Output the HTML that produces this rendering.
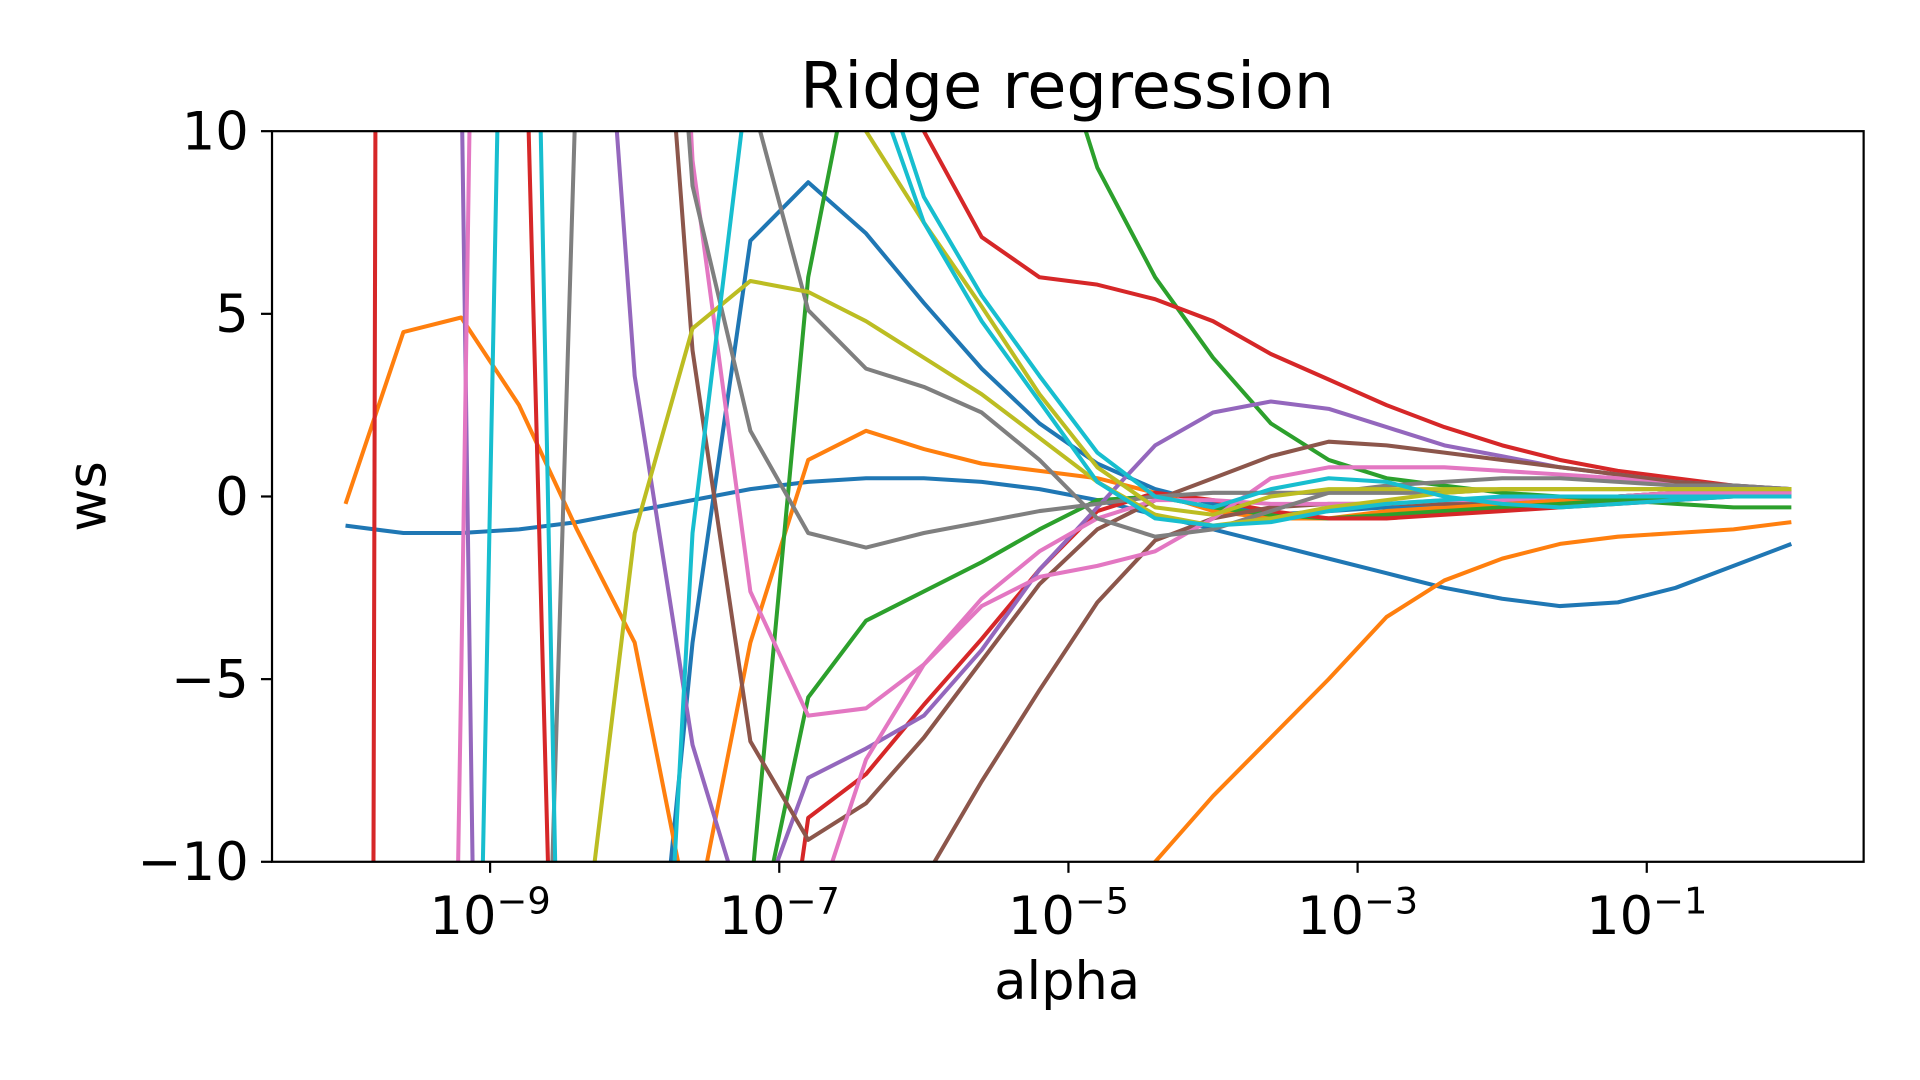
<!DOCTYPE html>
<html><head><meta charset="utf-8"><style>
html,body{margin:0;padding:0;background:#fff;overflow:hidden;width:1920px;height:1080px;}
svg{display:block;font-family:"DejaVu Sans","Liberation Sans",sans-serif;}
</style></head><body>
<svg id="chart" width="1920" height="1080" viewBox="0 0 1567 881" preserveAspectRatio="none">
<defs><clipPath id="clip"><rect x="222" y="107" width="1299" height="596"/></clipPath></defs>
<rect x="0" y="0" width="1567" height="881" fill="#fff"/>
<text x="871" y="88" font-size="52" text-anchor="middle">Ridge regression</text>
<g id="series" clip-path="url(#clip)"></g>
<rect x="222" y="107" width="1299" height="596" fill="none" stroke="#000" stroke-width="1.8"/>
<g id="axes"></g>
<text x="871" y="815" font-size="43" text-anchor="middle">alpha</text>
<text x="0" y="0" font-size="43" text-anchor="middle" transform="translate(86,405) rotate(-90)">ws</text>
</svg>
<script>
const logAlphas = [-10,-9.6,-9.2,-8.8,-8.4,-8,-7.6,-7.2,-6.8,-6.4,-6,-5.6,-5.2,-4.8,-4.4,-4,-3.6,-3.2,-2.8,-2.4,-2,-1.6,-1.2,-0.8,-0.4,0];
const yTicks = [10,5,0,-5,-10];
const xTickExps = [-9,-7,-5,-3,-1];
const seriesColors = ["#1f77b4","#1f77b4","#ff7f0e","#ff7f0e","#2ca02c","#2ca02c","#d62728","#d62728","#9467bd","#9467bd","#8c564b","#8c564b","#e377c2","#e377c2","#e377c2","#7f7f7f","#7f7f7f","#bcbd22","#bcbd22","#17becf","#17becf"];
const sBlueSmooth = [-0.8,-1.0,-1.0,-0.9,-0.7,-0.4,-0.1,0.2,0.4,0.5,0.5,0.4,0.2,-0.1,-0.5,-0.9,-1.3,-1.7,-2.1,-2.5,-2.8,-3.0,-2.9,-2.5,-1.9,-1.3];
const sBlueBig = [-30,-30,-30,-30,-30,-20,-4,7.0,8.6,7.2,5.3,3.5,2.0,0.9,0.2,-0.2,-0.5,-0.4,-0.3,-0.2,-0.1,0.0,0.0,0.1,0.1,0.1];
const sOrange1 = [-0.2,4.5,4.9,2.5,-0.9,-4.0,-12,-4,1.0,1.8,1.3,0.9,0.7,0.5,0.1,-0.4,-0.6,-0.6,-0.4,-0.3,-0.2,-0.1,0.0,0.1,0.1,0.2];
const sOrange2 = [-20,-20,-20,-20,-20,-20,-20,-20,-20,-20,-20,-20,-20,-11.5,-10,-8.2,-6.6,-5.0,-3.3,-2.3,-1.7,-1.3,-1.1,-1.0,-0.9,-0.7];
const sGreenSteep = [-30,-30,-30,-30,-30,-30,-30,-11,6,14,20,20,14,9,6.0,3.8,2.0,1.0,0.5,0.3,0.1,0.0,-0.1,-0.2,-0.3,-0.3];
const sGreenLow = [-30,-30,-30,-30,-30,-30,-30,-13,-5.5,-3.4,-2.6,-1.8,-0.9,-0.1,0.0,-0.3,-0.5,-0.6,-0.5,-0.4,-0.3,-0.2,-0.1,0.0,0.1,0.2];
const sRed1 = [-300,300,200,20,-40,-60,-40,-20,-8.8,-7.6,-5.7,-3.9,-2.0,-0.4,0.1,-0.1,-0.4,-0.6,-0.6,-0.5,-0.4,-0.3,-0.2,-0.1,0.0,0.0];
const sRed2 = [30,30,30,30,30,30,30,30,30,14,10,7.1,6.0,5.8,5.4,4.8,3.9,3.2,2.5,1.9,1.4,1.0,0.7,0.5,0.3,0.1];
const sPurple1 = [100,100,12,-100,-50,-50,-50,-50,-50,-50,-50,-50,-50,-50,-50,-50,-50,-50,-50,-50,-50,-50,-50,-50,-50,-50];
const sPurple2 = [30,30,30,30,25,3.3,-6.8,-12,-7.7,-6.9,-6.0,-4.2,-2.0,-0.3,1.4,2.3,2.6,2.4,1.9,1.4,1.1,0.8,0.6,0.4,0.3,0.2];
const sBrown1 = [25,25,25,25,25,25,4,-6.7,-9.4,-8.4,-6.6,-4.5,-2.4,-0.9,-0.1,0.5,1.1,1.5,1.4,1.2,1.0,0.8,0.6,0.4,0.3,0.2];
const sBrown2 = [-20,-20,-20,-20,-20,-20,-20,-20,-20,-15,-10.5,-7.8,-5.3,-2.9,-1.2,-0.6,-0.3,-0.2,-0.2,-0.2,-0.1,0.0,0.0,0.1,0.1,0.2];
const sPink1 = [-100,-100,-5,100,50,50,50,50,50,50,50,50,50,50,50,50,50,50,50,50,50,50,50,50,50,50];
const sPink2 = [40,40,40,40,40,40,9.2,-2.6,-6.0,-5.8,-4.6,-3.0,-2.2,-1.9,-1.5,-0.6,0.5,0.8,0.8,0.8,0.7,0.6,0.5,0.3,0.2,0.1];
const sPink3 = [-20,-20,-20,-20,-20,-20,-20,-20,-12,-7.2,-4.6,-2.8,-1.5,-0.6,-0.1,-0.1,-0.2,-0.2,-0.2,-0.1,-0.1,0.0,0.0,0.1,0.1,0.1];
const sGray1 = [-100,-100,-60,-40,12,30,30,11,5.1,3.5,3.0,2.3,1.0,-0.6,-1.1,-0.9,-0.4,0.1,0.3,0.4,0.5,0.5,0.4,0.3,0.3,0.2];
const sGray2 = [30,30,30,30,30,30,8.5,1.8,-1.0,-1.4,-1.0,-0.7,-0.4,-0.2,0.0,0.1,0.1,0.1,0.1,0.1,0.2,0.2,0.2,0.2,0.2,0.2];
const sOlive1 = [-20,-20,-20,-20,-14,-1,4.6,5.9,5.6,4.8,3.8,2.8,1.6,0.4,-0.5,-0.8,-0.6,-0.3,-0.1,0.1,0.2,0.2,0.2,0.2,0.2,0.2];
const sOlive2 = [30,30,30,30,30,30,30,30,14,10,7.5,5.2,2.8,0.8,-0.3,-0.5,0.0,0.2,0.2,0.2,0.2,0.2,0.2,0.2,0.2,0.2];
const sCyan1 = [-40,-40,-40,40,-40,-30,-1,12,25,13,8.2,5.5,3.3,1.2,0.0,-0.3,0.2,0.5,0.4,0.0,-0.2,-0.3,-0.2,-0.1,0.0,0.0];
const sCyan2 = [30,30,30,30,30,30,30,30,30,12,7.5,4.8,2.6,0.4,-0.6,-0.8,-0.7,-0.4,-0.2,-0.1,0.0,0.0,0.0,0.0,0.0,0.0];
const allSeries = [sBlueSmooth,sBlueBig,sOrange1,sOrange2,sGreenSteep,sGreenLow,sRed1,sRed2,sPurple1,sPurple2,sBrown1,sBrown2,sPink1,sPink2,sPink3,sGray1,sGray2,sOlive1,sOlive2,sCyan1,sCyan2];

const NS = "http://www.w3.org/2000/svg";
function xScale(l){ return 400 + (l + 9) * 118; }
function yScale(v){ return 405 - v * 29.8; }

const g = document.getElementById('series');
allSeries.forEach((vals, i) => {
  const d = vals.map((v, j) => (j ? 'L' : 'M') + xScale(logAlphas[j]).toFixed(1) + ',' + yScale(v).toFixed(1)).join(' ');
  const p = document.createElementNS(NS, 'path');
  p.setAttribute('d', d);
  p.setAttribute('fill', 'none');
  p.setAttribute('stroke', seriesColors[i]);
  p.setAttribute('stroke-width', '3.3');
  p.setAttribute('stroke-linejoin', 'round');
  
  
  g.appendChild(p);
});

const ax = document.getElementById('axes');
yTicks.forEach(t => {
  const y = yScale(t);
  const ln = document.createElementNS(NS, 'line');
  ln.setAttribute('x1', 213); ln.setAttribute('x2', 222);
  ln.setAttribute('y1', y); ln.setAttribute('y2', y);
  ln.setAttribute('stroke', '#000'); ln.setAttribute('stroke-width', '1.8');
  
  
  ax.appendChild(ln);
  const tx = document.createElementNS(NS, 'text');
  tx.setAttribute('x', 203); tx.setAttribute('y', y + 15);
  tx.setAttribute('font-size', '43'); tx.setAttribute('text-anchor', 'end');
  tx.textContent = t < 0 ? '\u2212' + Math.abs(t) : String(t);
  
  
  ax.appendChild(tx);
});
xTickExps.forEach(e => {
  const x = xScale(e);
  const ln = document.createElementNS(NS, 'line');
  ln.setAttribute('x1', x); ln.setAttribute('x2', x);
  ln.setAttribute('y1', 703); ln.setAttribute('y2', 712);
  ln.setAttribute('stroke', '#000'); ln.setAttribute('stroke-width', '1.8');
  
  
  ax.appendChild(ln);
  const tx = document.createElementNS(NS, 'text');
  tx.setAttribute('x', x); tx.setAttribute('y', 762);
  tx.setAttribute('font-size', '43'); tx.setAttribute('text-anchor', 'middle');
  const base = document.createElementNS(NS, 'tspan');
  base.textContent = '10';
  const sup = document.createElementNS(NS, 'tspan');
  sup.setAttribute('font-size', '30'); sup.setAttribute('dy', '-17');
  sup.textContent = '\u2212' + Math.abs(e);
  tx.appendChild(base); tx.appendChild(sup);
  
  
  ax.appendChild(tx);
});
</script>
</body></html>
